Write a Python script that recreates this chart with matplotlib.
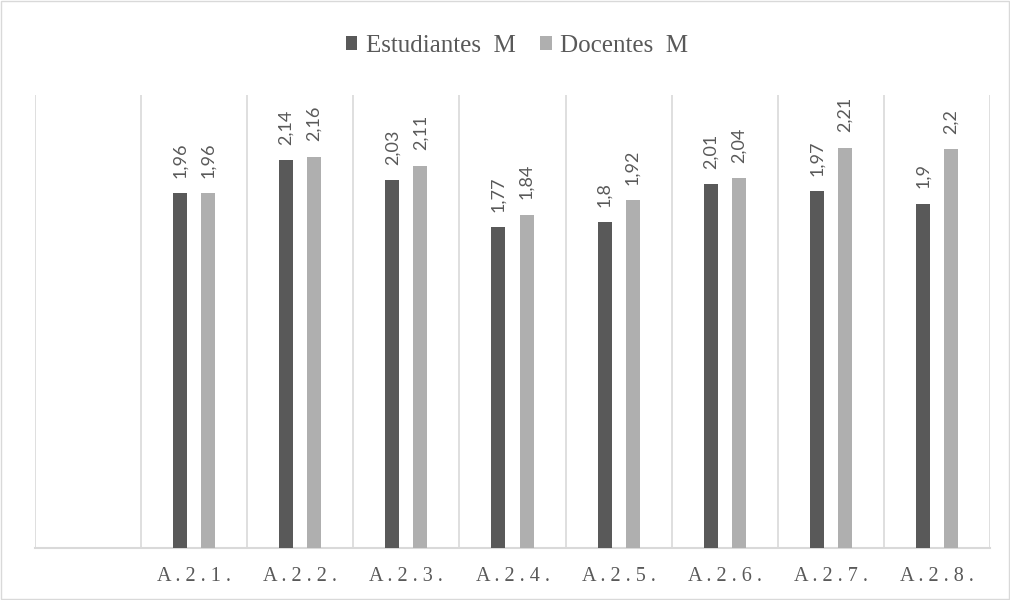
import numpy as np
import matplotlib.pyplot as plt
from matplotlib.patches import Rectangle

categorias = ["", "A.2.1.", "A.2.2.", "A.2.3.", "A.2.4.", "A.2.5.", "A.2.6.", "A.2.7.", "A.2.8."]
estudiantes = [np.nan, 1.96, 2.14, 2.03, 1.77, 1.80, 2.01, 1.97, 1.90]
docentes = [np.nan, 1.96, 2.16, 2.11, 1.84, 1.92, 2.04, 2.21, 2.20]

gris_osc = "#595959"
gris_cla = "#afafaf"
rejilla = "#d9d9d9"
texto = "#595959"

fig = plt.figure(figsize=(10.1, 6), dpi=100)
ax = fig.add_axes([35 / 1010, 52 / 600, 955 / 1010, 453 / 600])

x = np.arange(len(categorias))
w = 0.132
b1 = ax.bar(x - w, estudiantes, w, color=gris_osc, label="Estudiantes  M", zorder=3)
b2 = ax.bar(x + w, docentes, w, color=gris_cla, label="Docentes  M", zorder=3)

def etiquetas(barras, vals):
    for r, v in zip(barras, vals):
        if np.isnan(v):
            continue
        txt = ("%g" % v).replace(".", ",")
        ax.annotate(txt, (r.get_x() + r.get_width() / 2, v), xytext=(0, 11),
                    textcoords="offset points", rotation=90, ha="center", va="bottom",
                    fontsize=13, color=texto, family="Lato")

etiquetas(b1, estudiantes)
etiquetas(b2, docentes)

ax.set_xlim(-0.5, len(categorias) - 0.5)
ax.set_ylim(0, 2.5)
ax.set_yticks([])
ax.set_xticks(x)
ax.set_xticklabels([" ".join(c) for c in categorias], family="Liberation Serif",
                   fontsize=14.5, color=texto)
ax.tick_params(axis="x", length=0, pad=14)
ax.set_xticks(np.arange(-0.5, len(categorias), 1), minor=True)
ax.tick_params(axis="x", which="minor", length=0)
ax.grid(axis="x", which="minor", color=rejilla, lw=1.2, zorder=0)
ax.grid(axis="x", which="major", visible=False)
for s in ["top", "right", "left"]:
    ax.spines[s].set_visible(False)
ax.spines["bottom"].set_color(rejilla)
ax.spines["bottom"].set_linewidth(1.5)

fig.legend(loc="center", bbox_to_anchor=(517 / 1010, 1 - 46 / 600), ncol=2, frameon=False,
           prop={"family": "Liberation Serif", "size": 18}, labelcolor=texto,
           handlelength=0.45, handleheight=0.45, handletextpad=0.35, columnspacing=1.0)

fig.patches.append(Rectangle((0.001, 0.001), 0.998, 0.997, transform=fig.transFigure,
                             fill=False, edgecolor=rejilla, lw=1))

fig.savefig("out.png", dpi=100)
